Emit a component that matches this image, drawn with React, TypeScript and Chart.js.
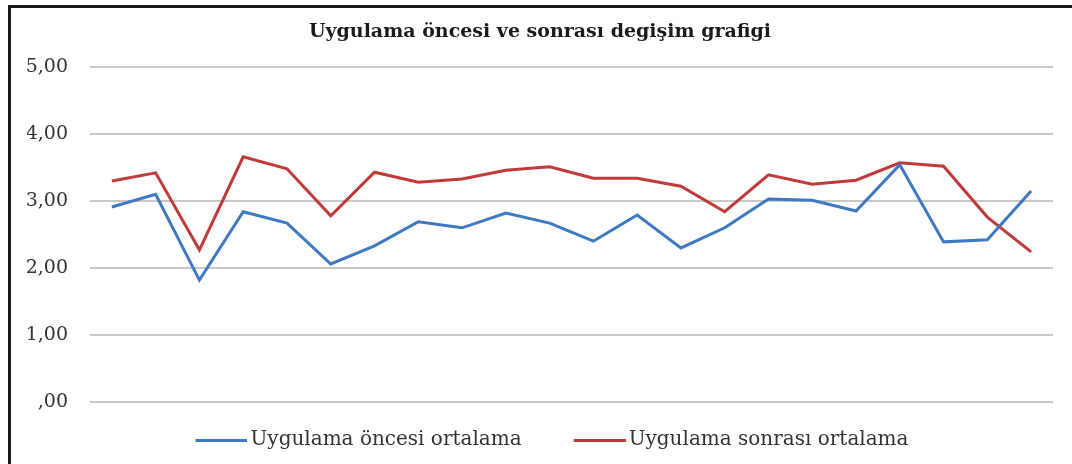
import React, { useEffect, useRef } from 'react';
import { Chart, registerables } from 'chart.js';

Chart.register(...registerables);

const categories = ['1', '2', '3', '4', '5', '6', '7', '8', '9', '10', '11', '12', '13', '14', '15', '16', '17', '18', '19', '20', '21', '22'];
const beforeValues = [2.91, 3.10, 1.82, 2.84, 2.67, 2.06, 2.33, 2.69, 2.60, 2.82, 2.67, 2.40, 2.79, 2.30, 2.60, 3.03, 3.01, 2.85, 3.54, 2.39, 2.42, 3.15];
const afterValues = [3.30, 3.42, 2.27, 3.66, 3.48, 2.78, 3.43, 3.28, 3.33, 3.46, 3.51, 3.34, 3.34, 3.22, 2.84, 3.39, 3.25, 3.31, 3.57, 3.52, 2.76, 2.24];
const yTickLabels = [',00', '1,00', '2,00', '3,00', '4,00', '5,00'];
const seriesNames = ['Uygulama öncesi ortalama', 'Uygulama sonrası ortalama'];
const seriesColors = ['#3E78C0', '#C03A3A'];
const titleText = 'Uygulama öncesi ve sonrası degişim grafigi';

const FONT = "'DejaVu Serif', serif";

function makeLegendMark(color: string): HTMLCanvasElement {
  const c = document.createElement('canvas');
  c.width = 83;
  c.height = 3;
  const ctx = c.getContext('2d');
  if (ctx) {
    ctx.fillStyle = color;
    ctx.fillRect(31, 0, 52, 3);
  }
  return c;
}

export default function App() {
  const canvasRef = useRef<HTMLCanvasElement | null>(null);

  useEffect(() => {
    if (!canvasRef.current) return;
    const marks = seriesColors.map(makeLegendMark);
    const chart = new Chart(canvasRef.current, {
      type: 'line',
      data: {
        labels: categories,
        datasets: [
          {
            label: seriesNames[0],
            data: beforeValues,
            borderColor: seriesColors[0],
            backgroundColor: seriesColors[0],
            borderWidth: 3,
            pointRadius: 0,
            tension: 0,
          },
          {
            label: seriesNames[1],
            data: afterValues,
            borderColor: seriesColors[1],
            backgroundColor: seriesColors[1],
            borderWidth: 3,
            pointRadius: 0,
            tension: 0,
          },
        ],
      },
      options: {
        responsive: false,
        animation: false,
        devicePixelRatio: 1,
        layout: { padding: { left: 27, right: 19, top: 0, bottom: 4 } },
        plugins: {
          title: {
            display: true,
            text: titleText,
            color: '#1a1a1a',
            font: { family: FONT, size: 19, weight: 'bold', lineHeight: 1.2 },
            padding: { top: 20.6, bottom: 23.6 },
          },
          legend: {
            position: 'bottom',
            labels: {
              usePointStyle: true,
              pointStyleWidth: 69,
              padding: 28,
              color: '#333333',
              font: { family: FONT, size: 20 },
              generateLabels: (ch: any) =>
                (Chart.defaults.plugins.legend.labels as any)
                  .generateLabels(ch)
                  .map((it: any, i: number) => ({ ...it, pointStyle: marks[i] })),
            },
          },
          tooltip: { enabled: false },
        },
        scales: {
          x: { display: false, offset: true },
          y: {
            min: 0,
            max: 5,
            ticks: {
              stepSize: 1,
              padding: 22,
              color: '#333333',
              font: { family: FONT, size: 19 },
              callback: (v: any) => yTickLabels[Math.round(Number(v))],
            },
            grid: { color: '#c8c8c8', lineWidth: 2, drawTicks: false },
            border: { display: false },
            afterFit: (s: any) => {
              s.width = 63;
            },
          },
        },
      },
    } as any);
    return () => chart.destroy();
  }, []);

  return (
    <div style={{ position: 'fixed', left: 0, top: 0, width: 1072, height: 464, background: '#ffffff', overflow: 'hidden' }}>
      <canvas ref={canvasRef} width={1072} height={464} style={{ position: 'absolute', left: 0, top: 0, width: 1072, height: 464 }} />
      <div
        style={{
          position: 'absolute',
          left: 8,
          top: 5,
          width: 1100,
          height: 500,
          borderTop: '3px solid #1a1a1a',
          borderLeft: '3px solid #1a1a1a',
          pointerEvents: 'none',
        }}
      />
    </div>
  );
}
